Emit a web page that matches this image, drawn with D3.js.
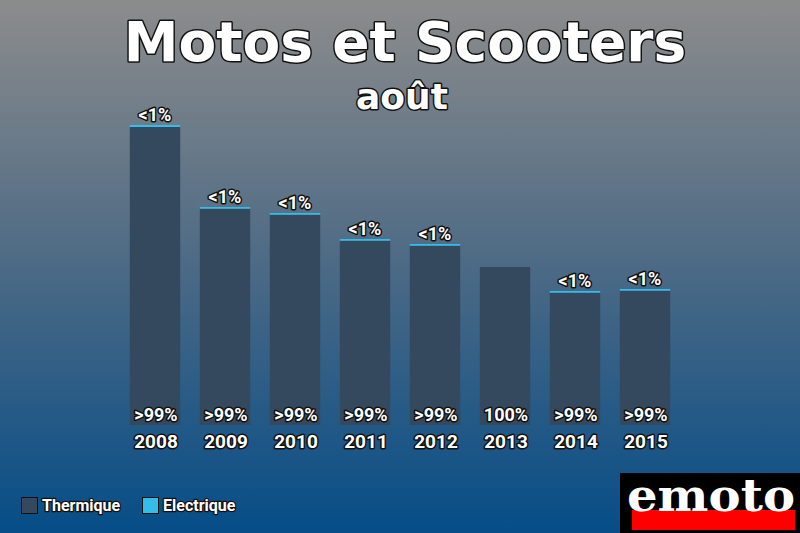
<!DOCTYPE html>
<html><head><meta charset="utf-8">
<script src="https://cdn.jsdelivr.net/npm/d3@7"></script>
<style>
html,body{margin:0;padding:0;}
svg{display:block;}
.out{paint-order:stroke;stroke:#111;stroke-linejoin:round;fill:#fff;}
</style></head>
<body>
<svg id="c" width="800" height="533"></svg>
<script>
const years = ["2008","2009","2010","2011","2012","2013","2014","2015"];
const thermique = [29800, 21630, 21030, 18430, 17930, 15800, 13230, 13430];
const electrique = [200, 170, 170, 170, 170, 0, 170, 170];
const topLabels = ["<1%","<1%","<1%","<1%","<1%","","<1%","<1%"];
const bottomLabels = [">99%",">99%",">99%",">99%",">99%","100%",">99%",">99%"];
const legendLabels = ["Thermique","Electrique"];
const colors = {thermique:"#34495e", electrique:"#35bde9"};

const svg = d3.select("#c");
const W = 800, H = 533;
const defs = svg.append("defs");
const g = defs.append("linearGradient").attr("id","bg").attr("x1",0).attr("y1",0).attr("x2",0).attr("y2",1);
g.append("stop").attr("offset","0%").attr("stop-color","#8c8c8c");
g.append("stop").attr("offset","50%").attr("stop-color","#4c6a85");
g.append("stop").attr("offset","100%").attr("stop-color","#064d87");
svg.append("rect").attr("width",W).attr("height",H).attr("fill","url(#bg)");

const x = d3.scaleBand().domain(years).range([120,680]).paddingInner(0.28).paddingOuter(0.14);
const y = d3.scaleLinear().domain([0,30000]).range([425,125]);

const bars = svg.append("g");
years.forEach((yr,i)=>{
  const t = thermique[i], e = electrique[i];
  bars.append("rect").attr("x",x(yr)).attr("width",x.bandwidth())
    .attr("y",y(t)).attr("height",y(0)-y(t)).attr("fill",colors.thermique);
  if(e>0){
    bars.append("rect").attr("x",x(yr)).attr("width",x.bandwidth())
      .attr("y",y(t+e)).attr("height",y(t)-y(t+e)).attr("fill",colors.electrique);
  }
  const cx = x(yr)+x.bandwidth()/2;
  if(topLabels[i]) svg.append("text").attr("class","out").attr("x",cx).attr("y",y(t+e)-4)
    .attr("text-anchor","middle").style("font","bold 18px Roboto").attr("stroke-width",3).text(topLabels[i]);
  svg.append("text").attr("class","out").attr("x",cx+1).attr("y",421)
    .attr("text-anchor","middle").style("font","bold 18px Roboto").attr("stroke-width",3).text(bottomLabels[i]);
  svg.append("text").attr("class","out").attr("x",cx+1).attr("y",448)
    .attr("text-anchor","middle").style("font","bold 19px Roboto").attr("stroke-width",3).text(yr);
});

svg.append("text").attr("class","out").attr("x",405).attr("y",61).attr("text-anchor","middle")
  .style("font","bold 55px 'DejaVu Sans'").attr("stroke-width",3).text("Motos et Scooters");
svg.append("text").attr("class","out").attr("x",402).attr("y",109).attr("text-anchor","middle")
  .style("font","bold 36px 'DejaVu Sans'").attr("stroke-width",3).text("août");

// legend
const lg = svg.append("g");
[[21,colors.thermique,legendLabels[0]],[142,colors.electrique,legendLabels[1]]].forEach(([lx,c,t])=>{
  lg.append("rect").attr("x",lx+0.5).attr("y",497.5).attr("width",16).attr("height",16).attr("fill",c).attr("stroke","#111").attr("stroke-width",1);
  lg.append("text").attr("class","out").attr("x",lx+21).attr("y",511).style("font","bold 16px Roboto").attr("stroke-width",2.5).text(t);
});

// logo
svg.append("rect").attr("x",620).attr("y",473).attr("width",180).attr("height",60).attr("fill","#000");
svg.append("rect").attr("x",632).attr("y",510).attr("width",163).attr("height",20).attr("fill","#f00");
svg.append("text").attr("x",627).attr("y",511).attr("textLength",168).attr("lengthAdjust","spacingAndGlyphs")
  .style("font","bold 44px 'DejaVu Serif'").attr("fill","#fff").text("emoto");
</script>
</body></html>
